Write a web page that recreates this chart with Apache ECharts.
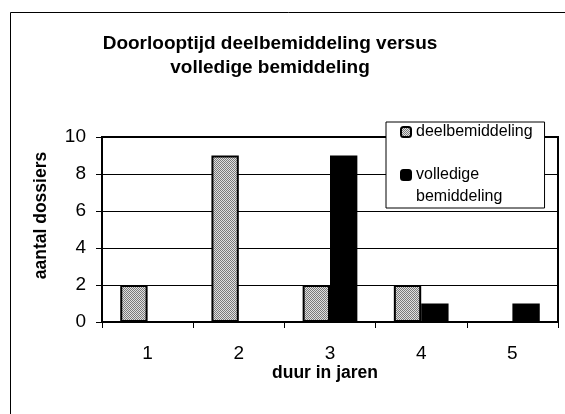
<!DOCTYPE html>
<html>
<head>
<meta charset="utf-8">
<script src="https://cdn.jsdelivr.net/npm/echarts@6/dist/echarts.min.js"></script>
<style>
html, body { margin: 0; padding: 0; background: #fff; }
#chart { width: 565px; height: 414px; }
</style>
</head>
<body>
<div id="chart"></div>
<script>
// duur in jaren
var categories = ['1', '2', '3', '4', '5'];
var deelValues = [2, 9, 2, 2, 0];
var volledigeValues = [0, 0, 9, 1, 1];
var yTicks = { min: 0, max: 10, interval: 2 };

// grijs stippelpatroon voor deelbemiddeling
function makePattern() {
	var c = document.createElement('canvas');
	c.width = 2;
	c.height = 2;
	var ctx = c.getContext('2d');
	ctx.fillStyle = '#e0e0e0';
	ctx.fillRect(0, 0, 2, 2);
	ctx.fillStyle = '#7a7a7a';
	ctx.fillRect(0, 0, 1, 1);
	ctx.fillRect(1, 1, 1, 1);
	return c;
}

var font = 'Liberation Sans, Arial, sans-serif';

var chart = echarts.init(document.getElementById('chart'));
var option = {
	animation : false,
	backgroundColor : '#fff',
	title : {
		text : 'Doorlooptijd deelbemiddeling versus\nvolledige bemiddeling',
		left : 265,
		top : 27,
		textAlign : 'center',
		textStyle : {
			color : '#000',
			fontWeight : 'bold',
			fontFamily : font,
			fontSize : 19,
			lineHeight : 24
		}
	},
	legend : {
		orient : 'vertical',
		left : 386,
		top : 122,
		padding : [0, 12, 0, 14],
		itemWidth : 10,
		itemHeight : 10,
		itemGap : 0,
		backgroundColor : '#fff',
		borderColor : '#000',
		borderWidth : 1,
		textStyle : {
			color : '#000',
			fontFamily : font,
			fontSize : 16,
			lineHeight : 20
		},
		formatter : function(name) {
			if (name === 'volledige bemiddeling') {
				return '\nvolledige\nbemiddeling';
			}
			return name;
		},
		data : [
			{ name : 'deelbemiddeling' },
			{ name : 'volledige bemiddeling', textStyle : { lineHeight : 22 } }
		]
	},
	grid : {
		left : 102,
		top : 137,
		right : 7,
		bottom : 92,
		show : true,
		borderColor : '#000',
		borderWidth : 2
	},
	xAxis : {
		type : 'category',
		data : categories,
		name : 'duur in jaren',
		nameLocation : 'middle',
		nameGap : 36,
		nameTextStyle : {
			color : '#000',
			fontWeight : 'bold',
			fontFamily : font,
			fontSize : 17.5,
			padding : [0, 10, 0, 0]
		},
		axisLine : { lineStyle : { color : '#000', width : 2 } },
		axisTick : { show : true, length : 6, lineStyle : { color : '#000', width : 1 } },
		axisLabel : {
			color : '#000',
			fontFamily : font,
			fontSize : 19,
			margin : 22
		}
	},
	yAxis : {
		type : 'value',
		min : yTicks.min,
		max : yTicks.max,
		interval : yTicks.interval,
		name : 'aantal dossiers',
		nameLocation : 'middle',
		nameGap : 52,
		nameTextStyle : {
			color : '#000',
			fontWeight : 'bold',
			fontFamily : font,
			fontSize : 17.5,
			padding : [0, 0, 0, 28]
		},
		axisLine : { show : true, lineStyle : { color : '#000', width : 2 } },
		axisTick : { show : true, length : 6, lineStyle : { color : '#000', width : 1 } },
		axisLabel : {
			color : '#000',
			fontFamily : font,
			fontSize : 19,
			margin : 16
		},
		splitLine : { lineStyle : { color : '#000', width : 1 } }
	},
	graphic : [ {
		type : 'rect',
		shape : { x : 10.5, y : 12.5, width : 700, height : 500 },
		style : { fill : null, stroke : '#000', lineWidth : 1 },
		silent : true,
		z : 10
	} ],
	series : [ {
		name : 'deelbemiddeling',
		type : 'bar',
		barGap : '0%',
		barCategoryGap : '40%',
		itemStyle : {
			color : { image : makePattern(), repeat : 'repeat' },
			borderColor : '#000',
			borderWidth : 2
		},
		data : deelValues
	}, {
		name : 'volledige bemiddeling',
		type : 'bar',
		barGap : '0%',
		barCategoryGap : '40%',
		itemStyle : {
			color : '#000',
			borderColor : '#000',
			borderWidth : 2
		},
		data : volledigeValues
	} ]
};
chart.setOption(option);
</script>
</body>
</html>
